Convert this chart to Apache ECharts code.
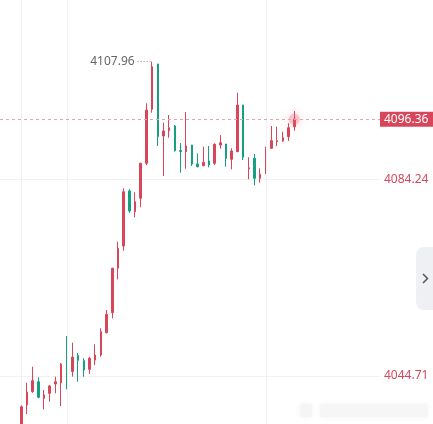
<!DOCTYPE html>
<html>
<head>
<meta charset="utf-8">
<script src="https://cdn.jsdelivr.net/npm/echarts@6/dist/echarts.min.js"></script>
<style>
html,body{margin:0;padding:0;background:#fff;}
#main{width:433px;height:424px;}
</style>
</head>
<body>
<div id="main"></div>
<script>
// ---- data ----
const opens  = [4034.65,4038.88,4041.55,4043.56,4040.22,4041.23,4043.10,4043.36,4046.92,4045.62,
                4048.87,4047.79,4046.06,4047.93,4048.93,4053.42,4057.44,4066.38,4070.86,4081.93,
                4077.76,4080.46,4087.50,4098.36,4107.48,4092.99,4094.06,4095.00,4090.07,4089.83,
                4091.18,4087.36,4087.02,4087.96,4087.50,4091.18,4091.38,4088.30,4089.83,4099.23,
                4086.39,4088.50,4084.48,4085.49,4090.52,4091.84,4091.99,4092.85,4094.86];
const closes = [4038.53,4041.49,4043.76,4040.43,4040.89,4042.70,4043.56,4047.12,4045.37,4048.53,
                4047.87,4045.92,4048.27,4048.93,4053.62,4057.12,4066.38,4070.40,4081.79,4077.90,
                4079.77,4087.50,4098.22,4106.93,4092.85,4094.00,4094.66,4090.03,4089.87,4090.98,
                4087.36,4086.81,4087.70,4087.16,4091.32,4091.64,4088.50,4089.97,4099.23,4088.71,
                4086.59,4084.48,4085.29,4090.52,4092.05,4092.05,4092.65,4094.66,4096.36];
const lows   = [4034.00,4037.07,4041.35,4040.22,4038.01,4039.54,4041.23,4038.67,4042.03,4044.57,
                4043.56,4044.57,4045.11,4046.92,4048.59,4053.30,4056.32,4064.12,4069.92,4077.56,
                4076.64,4078.65,4087.16,4097.68,4090.98,4084.94,4092.65,4089.83,4085.61,4086.41,
                4086.96,4086.69,4086.90,4086.69,4087.16,4090.44,4086.81,4086.29,4089.80,4088.16,
                4084.28,4083.07,4083.60,4085.35,4090.38,4090.98,4091.84,4091.99,4094.06];
const highs  = [4038.80,4043.36,4046.58,4044.45,4041.89,4042.90,4044.57,4047.30,4052.76,4051.41,
                4049.34,4048.27,4048.59,4051.09,4054.31,4057.99,4066.50,4071.73,4082.47,4082.27,
                4081.67,4087.60,4099.57,4107.96,4107.50,4095.67,4097.22,4095.20,4091.58,4097.82,
                4091.20,4089.51,4090.84,4090.98,4091.52,4093.19,4091.40,4090.52,4101.70,4099.25,
                4088.71,4089.37,4086.49,4090.84,4095.00,4094.86,4093.86,4095.55,4098.02];
const yTicks = [4005.18, 4044.71, 4084.24, 4123.77];
const xGridAt = [8, 43];

// ---- styling ----
const UP = '#d8465b', DOWN = '#15a082';

const candleData = opens.map((o, i) => [i, o, closes[i], lows[i], highs[i]]);
const last = closes.length - 1;
const maxHigh = Math.max(...highs);
const maxIdx = highs.indexOf(maxHigh);

const chart = echarts.init(document.getElementById('main'), null, {renderer: 'canvas'});
chart.setOption({
  animation: false,
  backgroundColor: '#ffffff',
  grid: {left: 0, right: 53, top: -17, bottom: -148.5, containLabel: false, outerBoundsMode: 'none'},
  xAxis: {
    type: 'value', min: -3.745, max: 63.07,
    show: true,
    axisLine: {show: false}, axisTick: {show: false}, axisLabel: {show: false}, splitLine: {show: false}
  },
  yAxis: {
    type: 'value', position: 'right',
    min: yTicks[0], max: yTicks[yTicks.length - 1], interval: yTicks[1] - yTicks[0],
    axisLine: {show: true, lineStyle: {color: '#f0f0f0', width: 1}},
    axisTick: {show: false},
    splitLine: {show: true, lineStyle: {color: '#f2f2f2', width: 1}},
    axisLabel: {
      color: '#d4485c', fontSize: 12, margin: 4, fontFamily: 'Noto Sans',
      padding: [3, 0, 0, 0],
      formatter: v => v.toFixed(2)
    }
  },
  series: [
    {
      type: 'line', data: [], z: 1, silent: true,
      markLine: {
        silent: true, symbol: ['none', 'none'], label: {show: false},
        lineStyle: {color: '#f2f2f2', type: 'solid', width: 1},
        data: xGridAt.map(v => ({xAxis: v}))
      }
    },
    {
      type: 'candlestick', z: 2,
      dimensions: ['x', 'open', 'close', 'low', 'high'],
      encode: {x: 0, y: [1, 2, 3, 4]},
      data: candleData,
      barWidth: 2,
      itemStyle: {color: UP, color0: DOWN, borderColor: UP, borderColor0: DOWN, borderWidth: 1},
      markLine: {
        silent: true, symbol: ['none', 'none'], animation: false,
        data: [
          {
            yAxis: closes[last],
            lineStyle: {color: '#e7a3ac', type: [3, 3], width: 1},
            label: {
              show: true, position: 'end', distance: 0,
              formatter: () => closes[last].toFixed(2),
              color: '#ffffff', backgroundColor: UP, fontSize: 12, fontFamily: 'Noto Sans',
              padding: [0, 8, 0, 4], lineHeight: 15
            }
          },
          [
            {
              coord: [maxIdx - 2.55, maxHigh],
              lineStyle: {color: '#888888', type: [1, 2], width: 1},
              label: {
                show: true, position: 'start', distance: 3,
                formatter: () => maxHigh.toFixed(2),
                color: '#666666', fontSize: 12, fontFamily: 'Noto Sans',
                padding: [3, 0, 0, 0]
              }
            },
            {coord: [maxIdx - 0.3, maxHigh]}
          ]
        ]
      }
    },
    {
      type: 'scatter', z: 3, silent: true,
      data: [[last, closes[last]]],
      symbolSize: 11,
      itemStyle: {color: 'rgba(236,92,112,0.35)', shadowBlur: 10, shadowColor: 'rgba(236,80,100,0.9)'}
    }
  ],
  graphic: [
    {
      type: 'rect', right: 0, top: 247, z: 10,
      shape: {width: 17, height: 63, r: [8, 0, 0, 8]},
      style: {fill: '#eff0f3'}
    },
    {
      type: 'polyline', z: 11,
      shape: {points: [[423, 274], [427.5, 278.5], [423, 283]]},
      style: {stroke: '#555555', lineWidth: 1.5, fill: null}
    },
    {
      type: 'rect', left: 300, top: 404, z: 5,
      shape: {width: 12, height: 13, r: 2},
      style: {fill: '#f5f5f5', shadowBlur: 5, shadowColor: '#f2f2f2'}
    },
    {
      type: 'rect', left: 320, top: 404, z: 5,
      shape: {width: 108, height: 13, r: 2},
      style: {fill: '#f6f6f6', shadowBlur: 5, shadowColor: '#f2f2f2'}
    }
  ]
});
</script>
</body>
</html>
